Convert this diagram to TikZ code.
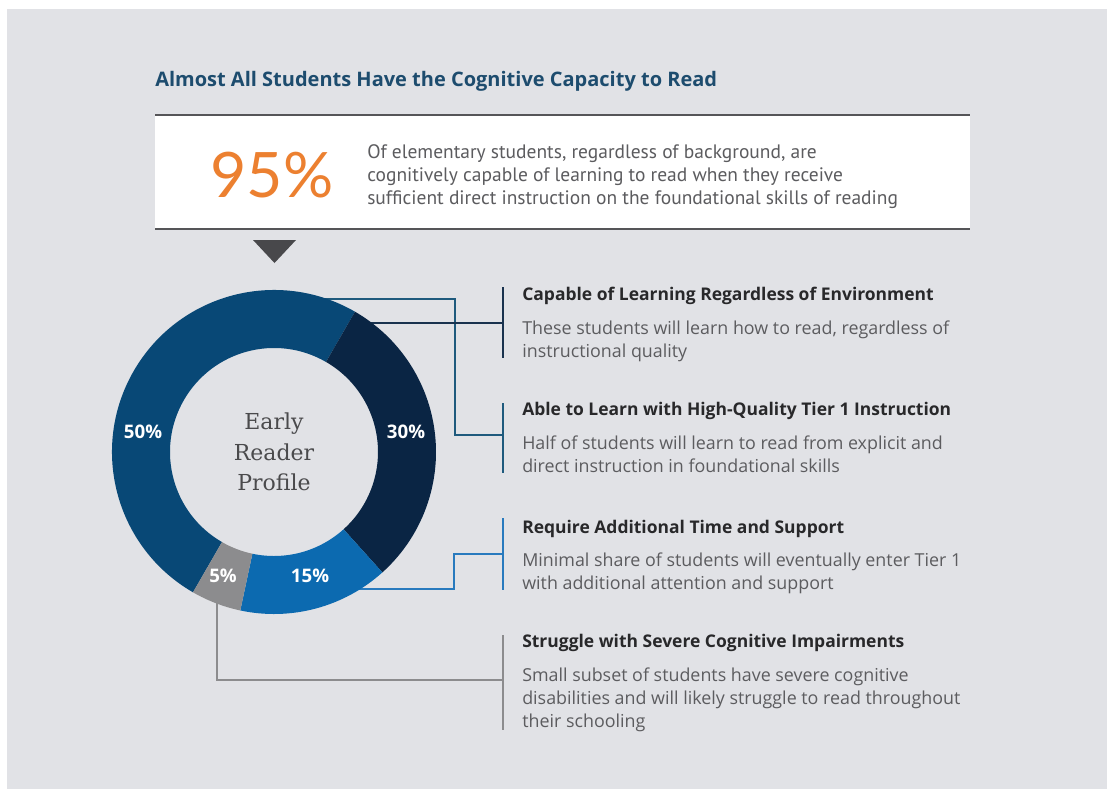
\documentclass[tikz,border=0pt]{standalone}
\usepackage{fontspec}
\setmainfont{Open Sans}
\newfontfamily\titlefont{Open Sans}
\newfontfamily\boxfont{PT Sans}
\newfontfamily\bigfont{Lato}
\newfontfamily\slabfont{DejaVu Serif}
\definecolor{bg}{RGB}{225,226,230}
\definecolor{titleblue}{RGB}{29,76,110}
\definecolor{segA}{RGB}{8,72,118}
\definecolor{segB}{RGB}{10,37,68}
\definecolor{segC}{RGB}{12,106,176}
\definecolor{segD}{RGB}{140,140,142}
\definecolor{lineA}{RGB}{30,90,125}
\definecolor{lineB}{RGB}{25,50,78}
\definecolor{lineC}{RGB}{40,122,190}
\definecolor{rulegray}{RGB}{85,85,88}
\definecolor{orangeN}{RGB}{236,128,48}
\definecolor{headtext}{RGB}{40,40,42}
\definecolor{bodytext}{RGB}{92,92,95}
\tikzset{
  conn/.style={line width=1.6pt},
  bar/.style={line width=2.2pt},
  head/.style={anchor=base west, inner sep=0pt, text=headtext, font=\fontsize{13.1}{17.25}\selectfont\bfseries},
  body/.style={anchor=base west, inner sep=0pt, text=bodytext, align=left, font=\fontsize{13.4}{17.25}\selectfont},
  pct/.style={inner sep=0pt, text=white, font=\fontsize{14}{16}\selectfont\bfseries},
}
\begin{document}
\begin{tikzpicture}[x=0.75pt,y=-0.75pt]
\useasboundingbox (0,0) rectangle (1107,789);
\fill[white] (0,0) rectangle (1107,789);
\fill[bg] (7,9) rectangle (1107,789);

% title
\node[anchor=base west, inner sep=0pt, text=titleblue, font=\titlefont\bfseries\fontsize{15}{18}\selectfont] (title) at (155,86) {Almost All Students Have the Cognitive Capacity to Read};

% white box
\fill[white] (155,115) rectangle (970,229);
\draw[rulegray, line width=2.2pt] (155,115) -- (970,115);
\draw[rulegray, line width=2.2pt] (155,229) -- (970,229);
\node[anchor=center, inner sep=0pt, text=orangeN, font=\bigfont\fontsize{47}{50}\selectfont] (big) at (272,175) {95\%};
\node[anchor=base west, inner sep=0pt, text=bodytext, align=left, font=\boxfont\fontsize{14.6}{17.25}\selectfont] (boxtext) at (367,204.5) {Of elementary students, regardless of background, are\\cognitively capable of learning to read when they receive\\sufficient direct instruction on the foundational skills of reading};

% triangle
\fill[rulegray!85!black] (253,240) -- (296,240) -- (274.5,263) -- cycle;

% bars
\coordinate (b1t) at (503,287); \coordinate (b1b) at (503,358);
\coordinate (b2t) at (503,403); \coordinate (b2b) at (503,473);
\coordinate (b3t) at (503,518); \coordinate (b3b) at (503,590);
\coordinate (b4t) at (503,635); \coordinate (b4b) at (503,730);
\draw[bar, lineB] (b1t) -- (b1b);
\draw[bar, lineA] (b2t) -- (b2b);
\draw[bar, lineC] (b3t) -- (b3b);
\draw[bar, segD] (b4t) -- (b4b);

% connector start points (hidden under ring)
\coordinate (sA) at (320,299);
\coordinate (sB) at (350,323);
\coordinate (sC) at (340,589);
\coordinate (sD) at (217,590);
\coordinate (eA) at (503,435);
\coordinate (eB) at (503,323);
\coordinate (eC) at (503,554);
\coordinate (eD) at (503,680);
\draw[conn, lineA] (sA) -- (455,299) -- (455,435) -- (eA);
\draw[conn, lineB] (sB) -- (eB);
\draw[conn, lineC] (sC) -- (454,589) -- (454,554) -- (eC);
\draw[conn, segD] (sD) -- (217,680) -- (eD);

% donut
\begin{scope}[shift={(274,452)}, y=0.75pt]
\fill[segA] (60:162) arc[start angle=60, end angle=240, radius=162] -- (240:104) arc[start angle=240, end angle=60, radius=104] -- cycle;
\fill[segB] (-48:162) arc[start angle=-48, end angle=60, radius=162] -- (60:104) arc[start angle=60, end angle=-48, radius=104] -- cycle;
\fill[segC] (-102:162) arc[start angle=-102, end angle=-48, radius=162] -- (-48:104) arc[start angle=-48, end angle=-102, radius=104] -- cycle;
\fill[segD] (-120:162) arc[start angle=-120, end angle=-102, radius=162] -- (-102:104) arc[start angle=-102, end angle=-120, radius=104] -- cycle;
\end{scope}

\node[pct] (p50) at (143,432) {50\%};
\node[pct] (p30) at (406,432) {30\%};
\node[pct] (p15) at (310,576) {15\%};
\node[pct] (p5) at (223,576) {5\%};

\node[anchor=center, inner sep=0pt, align=center, text=bodytext!80!black, font=\slabfont\fontsize{16.5}{23}\selectfont] (center) at (274,452) {Early\\Reader\\Profile};

% right texts
\node[head] (h1) at (522,300.5) {Capable of Learning Regardless of Environment};
\node[body] (t1) at (522,357.5) {These students will learn how to read, regardless of\\instructional quality};
\node[head] (h2) at (522,415.5) {Able to Learn with High-Quality Tier 1 Instruction};
\node[body] (t2) at (522,472.5) {Half of students will learn to read from explicit and\\direct instruction in foundational skills};
\node[head] (h3) at (522,533.5) {Require Additional Time and Support};
\node[body] (t3) at (522,589.5) {Minimal share of students will eventually enter Tier 1\\with additional attention and support};
\node[head] (h4) at (522,647.5) {Struggle with Severe Cognitive Impairments};
\node[body] (t4) at (522,727.5) {Small subset of students have severe cognitive\\disabilities and will likely struggle to read throughout\\their schooling};
\end{tikzpicture}
\end{document}
